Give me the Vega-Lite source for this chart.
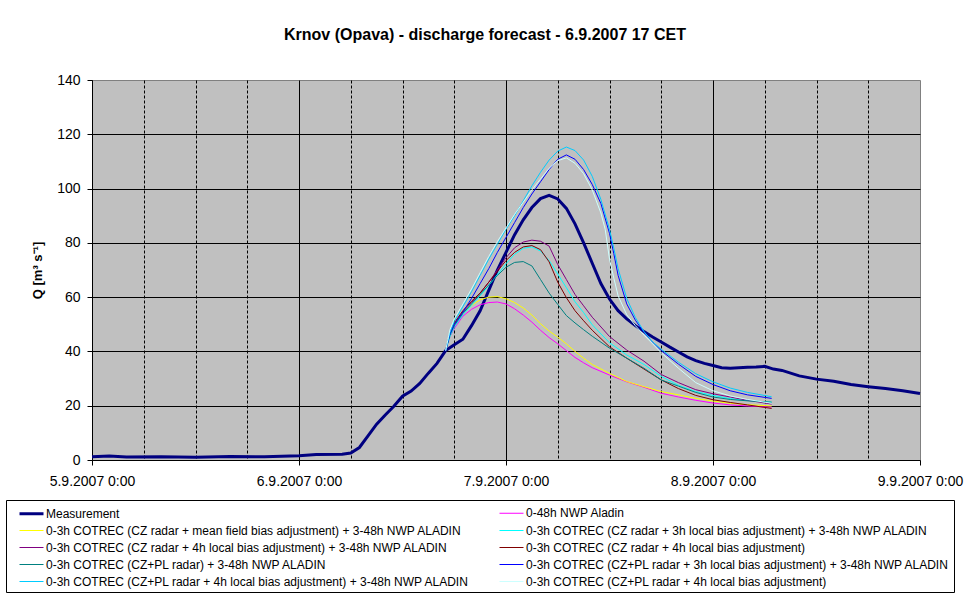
{
  "$schema": "https://vega.github.io/schema/vega-lite/v6.json",
  "width": 828,
  "height": 380,
  "autosize": "none",
  "padding": {"left": 92, "top": 80, "right": 50, "bottom": 144},
  "background": "white",
  "config": {
    "font": "Liberation Sans",
    "view": {"fill": "#C0C0C0", "stroke": "#808080", "strokeWidth": 1}
  },
  "title": {
    "text": "Krnov (Opava) - discharge forecast - 6.9.2007 17 CET",
    "font": "Liberation Sans",
    "fontSize": 16,
    "fontWeight": "bold",
    "color": "black",
    "anchor": "middle",
    "frame": "group",
    "dx": -21,
    "offset": 30
  },
  "data": {
    "format": {"parse": {"t": "utc:'%Y-%m-%d %H:%M'"}},
    "values": [
      {"k":0,"t":"2007-09-05 00:00","q":1.2},{"k":0,"t":"2007-09-05 02:00","q":1.5},{"k":0,"t":"2007-09-05 04:00","q":1.1},{"k":0,"t":"2007-09-05 08:00","q":1.2},{"k":0,"t":"2007-09-05 12:00","q":1.0},{"k":0,"t":"2007-09-05 16:00","q":1.3},{"k":0,"t":"2007-09-05 20:00","q":1.2},{"k":0,"t":"2007-09-06 00:00","q":1.6},{"k":0,"t":"2007-09-06 02:00","q":2.0},{"k":0,"t":"2007-09-06 05:00","q":2.1},{"k":0,"t":"2007-09-06 06:00","q":2.6},{"k":0,"t":"2007-09-06 07:00","q":4.6},{"k":0,"t":"2007-09-06 08:00","q":8.9},{"k":0,"t":"2007-09-06 09:00","q":13.2},{"k":0,"t":"2007-09-06 10:00","q":16.6},{"k":0,"t":"2007-09-06 11:00","q":19.8},{"k":0,"t":"2007-09-06 12:00","q":23.5},{"k":0,"t":"2007-09-06 13:00","q":25.4},{"k":0,"t":"2007-09-06 14:00","q":28.2},{"k":0,"t":"2007-09-06 15:00","q":32.0},{"k":0,"t":"2007-09-06 16:00","q":35.6},{"k":0,"t":"2007-09-06 17:00","q":40.3},{"k":0,"t":"2007-09-06 18:00","q":42.5},{"k":0,"t":"2007-09-06 19:00","q":44.5},{"k":0,"t":"2007-09-06 20:00","q":49.5},{"k":0,"t":"2007-09-06 21:00","q":55},{"k":0,"t":"2007-09-06 22:00","q":62.5},{"k":0,"t":"2007-09-06 23:00","q":70},{"k":0,"t":"2007-09-07 00:00","q":76.5},{"k":0,"t":"2007-09-07 01:00","q":83},{"k":0,"t":"2007-09-07 02:00","q":88.5},{"k":0,"t":"2007-09-07 03:00","q":93},{"k":0,"t":"2007-09-07 04:00","q":96.3},{"k":0,"t":"2007-09-07 05:00","q":97.5},{"k":0,"t":"2007-09-07 06:00","q":96.2},{"k":0,"t":"2007-09-07 07:00","q":92.7},{"k":0,"t":"2007-09-07 08:00","q":87},{"k":0,"t":"2007-09-07 09:00","q":80},{"k":0,"t":"2007-09-07 10:00","q":72.5},{"k":0,"t":"2007-09-07 11:00","q":65},{"k":0,"t":"2007-09-07 12:00","q":59.3},{"k":0,"t":"2007-09-07 13:00","q":55},{"k":0,"t":"2007-09-07 14:00","q":52},{"k":0,"t":"2007-09-07 15:00","q":49.5},{"k":0,"t":"2007-09-07 16:00","q":47.3},{"k":0,"t":"2007-09-07 17:00","q":45.3},{"k":0,"t":"2007-09-07 18:00","q":43.5},{"k":0,"t":"2007-09-07 19:00","q":41.6},{"k":0,"t":"2007-09-07 20:00","q":39.8},{"k":0,"t":"2007-09-07 21:00","q":38.0},{"k":0,"t":"2007-09-07 22:00","q":36.6},{"k":0,"t":"2007-09-07 23:00","q":35.6},{"k":0,"t":"2007-09-08 00:00","q":34.8},{"k":0,"t":"2007-09-08 01:00","q":34.0},{"k":0,"t":"2007-09-08 02:00","q":33.8},{"k":0,"t":"2007-09-08 03:00","q":34.0},{"k":0,"t":"2007-09-08 04:00","q":34.2},{"k":0,"t":"2007-09-08 05:00","q":34.3},{"k":0,"t":"2007-09-08 06:00","q":34.5},{"k":0,"t":"2007-09-08 07:00","q":33.5},{"k":0,"t":"2007-09-08 08:00","q":33.0},{"k":0,"t":"2007-09-08 10:00","q":31.0},{"k":0,"t":"2007-09-08 12:00","q":29.8},{"k":0,"t":"2007-09-08 14:00","q":29.0},{"k":0,"t":"2007-09-08 16:00","q":27.8},{"k":0,"t":"2007-09-08 18:00","q":27.0},{"k":0,"t":"2007-09-08 20:00","q":26.3},{"k":0,"t":"2007-09-08 22:00","q":25.5},{"k":0,"t":"2007-09-09 00:00","q":24.5},

      {"k":1,"t":"2007-09-06 17:00","q":40.3},{"k":1,"t":"2007-09-06 17:30","q":45.5},{"k":1,"t":"2007-09-06 18:00","q":48.5},{"k":1,"t":"2007-09-06 19:00","q":53},{"k":1,"t":"2007-09-06 20:00","q":55.5},{"k":1,"t":"2007-09-06 21:00","q":57.2},{"k":1,"t":"2007-09-06 22:00","q":58},{"k":1,"t":"2007-09-06 23:00","q":58.2},{"k":1,"t":"2007-09-07 00:00","q":57.5},{"k":1,"t":"2007-09-07 01:00","q":55.7},{"k":1,"t":"2007-09-07 02:00","q":53.4},{"k":1,"t":"2007-09-07 03:00","q":50.8},{"k":1,"t":"2007-09-07 04:00","q":47.8},{"k":1,"t":"2007-09-07 05:00","q":45.1},{"k":1,"t":"2007-09-07 06:00","q":42.8},{"k":1,"t":"2007-09-07 07:00","q":40.3},{"k":1,"t":"2007-09-07 08:00","q":37.8},{"k":1,"t":"2007-09-07 09:00","q":35.8},{"k":1,"t":"2007-09-07 10:00","q":34},{"k":1,"t":"2007-09-07 12:00","q":31.3},{"k":1,"t":"2007-09-07 14:00","q":28.8},{"k":1,"t":"2007-09-07 16:00","q":26.8},{"k":1,"t":"2007-09-07 18:00","q":24.6},{"k":1,"t":"2007-09-07 20:00","q":23.2},{"k":1,"t":"2007-09-07 22:00","q":22},{"k":1,"t":"2007-09-08 00:00","q":21},{"k":1,"t":"2007-09-08 02:00","q":20.3},{"k":1,"t":"2007-09-08 04:00","q":19.9},{"k":1,"t":"2007-09-08 06:48","q":19.5},

      {"k":2,"t":"2007-09-06 17:00","q":40.3},{"k":2,"t":"2007-09-06 17:30","q":46},{"k":2,"t":"2007-09-06 18:00","q":50.5},{"k":2,"t":"2007-09-06 19:00","q":54.5},{"k":2,"t":"2007-09-06 20:00","q":57},{"k":2,"t":"2007-09-06 21:00","q":59},{"k":2,"t":"2007-09-06 22:00","q":60},{"k":2,"t":"2007-09-06 23:00","q":60.2},{"k":2,"t":"2007-09-07 00:00","q":59.4},{"k":2,"t":"2007-09-07 01:00","q":58},{"k":2,"t":"2007-09-07 02:00","q":56},{"k":2,"t":"2007-09-07 03:00","q":53.4},{"k":2,"t":"2007-09-07 04:00","q":50.2},{"k":2,"t":"2007-09-07 05:00","q":47.5},{"k":2,"t":"2007-09-07 06:00","q":45.3},{"k":2,"t":"2007-09-07 07:00","q":42.8},{"k":2,"t":"2007-09-07 08:00","q":40},{"k":2,"t":"2007-09-07 09:00","q":37.5},{"k":2,"t":"2007-09-07 10:00","q":35.2},{"k":2,"t":"2007-09-07 12:00","q":31.9},{"k":2,"t":"2007-09-07 14:00","q":28.9},{"k":2,"t":"2007-09-07 16:00","q":27},{"k":2,"t":"2007-09-07 18:00","q":25.2},{"k":2,"t":"2007-09-07 20:00","q":24},{"k":2,"t":"2007-09-07 22:00","q":22.7},{"k":2,"t":"2007-09-08 00:00","q":21.7},{"k":2,"t":"2007-09-08 02:00","q":20.9},{"k":2,"t":"2007-09-08 04:00","q":20.4},{"k":2,"t":"2007-09-08 06:48","q":19.9},

      {"k":3,"t":"2007-09-06 17:00","q":40.3},{"k":3,"t":"2007-09-06 17:30","q":45.5},{"k":3,"t":"2007-09-06 18:00","q":49},{"k":3,"t":"2007-09-06 19:00","q":53.5},{"k":3,"t":"2007-09-06 20:00","q":57},{"k":3,"t":"2007-09-06 21:00","q":60.5},{"k":3,"t":"2007-09-06 22:00","q":64.3},{"k":3,"t":"2007-09-06 23:00","q":68.3},{"k":3,"t":"2007-09-07 00:00","q":72.3},{"k":3,"t":"2007-09-07 01:00","q":75.8},{"k":3,"t":"2007-09-07 02:00","q":78},{"k":3,"t":"2007-09-07 03:00","q":78.5},{"k":3,"t":"2007-09-07 04:00","q":77},{"k":3,"t":"2007-09-07 05:00","q":73.5},{"k":3,"t":"2007-09-07 06:00","q":68.5},{"k":3,"t":"2007-09-07 07:00","q":63.5},{"k":3,"t":"2007-09-07 08:00","q":58.3},{"k":3,"t":"2007-09-07 09:00","q":54.3},{"k":3,"t":"2007-09-07 10:00","q":49.8},{"k":3,"t":"2007-09-07 12:00","q":43.2},{"k":3,"t":"2007-09-07 14:00","q":38.7},{"k":3,"t":"2007-09-07 16:00","q":35.2},{"k":3,"t":"2007-09-07 18:00","q":30.8},{"k":3,"t":"2007-09-07 20:00","q":27.5},{"k":3,"t":"2007-09-07 22:00","q":25.2},{"k":3,"t":"2007-09-08 00:00","q":23.8},{"k":3,"t":"2007-09-08 02:00","q":22.6},{"k":3,"t":"2007-09-08 04:00","q":21.9},{"k":3,"t":"2007-09-08 06:48","q":21.3},

      {"k":4,"t":"2007-09-06 17:00","q":40.3},{"k":4,"t":"2007-09-06 17:30","q":46.5},{"k":4,"t":"2007-09-06 18:00","q":50},{"k":4,"t":"2007-09-06 19:00","q":54.5},{"k":4,"t":"2007-09-06 20:00","q":58},{"k":4,"t":"2007-09-06 21:00","q":61.5},{"k":4,"t":"2007-09-06 22:00","q":65.5},{"k":4,"t":"2007-09-06 23:00","q":70},{"k":4,"t":"2007-09-07 00:00","q":74.5},{"k":4,"t":"2007-09-07 01:00","q":78.2},{"k":4,"t":"2007-09-07 02:00","q":80.3},{"k":4,"t":"2007-09-07 03:00","q":81},{"k":4,"t":"2007-09-07 04:00","q":80.6},{"k":4,"t":"2007-09-07 05:00","q":78.8},{"k":4,"t":"2007-09-07 06:00","q":72},{"k":4,"t":"2007-09-07 07:00","q":66.5},{"k":4,"t":"2007-09-07 08:00","q":61},{"k":4,"t":"2007-09-07 09:00","q":56.8},{"k":4,"t":"2007-09-07 10:00","q":52.6},{"k":4,"t":"2007-09-07 12:00","q":45.5},{"k":4,"t":"2007-09-07 14:00","q":40.5},{"k":4,"t":"2007-09-07 16:00","q":36.4},{"k":4,"t":"2007-09-07 18:00","q":31.5},{"k":4,"t":"2007-09-07 20:00","q":28.5},{"k":4,"t":"2007-09-07 22:00","q":25.9},{"k":4,"t":"2007-09-08 00:00","q":24.4},{"k":4,"t":"2007-09-08 02:00","q":23.2},{"k":4,"t":"2007-09-08 04:00","q":22},{"k":4,"t":"2007-09-08 06:48","q":20.6},

      {"k":5,"t":"2007-09-06 17:00","q":40.3},{"k":5,"t":"2007-09-06 17:30","q":47},{"k":5,"t":"2007-09-06 18:00","q":50.5},{"k":5,"t":"2007-09-06 19:00","q":55},{"k":5,"t":"2007-09-06 20:00","q":58.5},{"k":5,"t":"2007-09-06 21:00","q":61.5},{"k":5,"t":"2007-09-06 22:00","q":65.5},{"k":5,"t":"2007-09-06 23:00","q":69.5},{"k":5,"t":"2007-09-07 00:00","q":73.5},{"k":5,"t":"2007-09-07 01:00","q":76.5},{"k":5,"t":"2007-09-07 02:00","q":78.5},{"k":5,"t":"2007-09-07 03:00","q":79},{"k":5,"t":"2007-09-07 04:00","q":77.5},{"k":5,"t":"2007-09-07 05:00","q":73},{"k":5,"t":"2007-09-07 06:00","q":65.5},{"k":5,"t":"2007-09-07 07:00","q":59.8},{"k":5,"t":"2007-09-07 08:00","q":55},{"k":5,"t":"2007-09-07 09:00","q":51.3},{"k":5,"t":"2007-09-07 10:00","q":47.8},{"k":5,"t":"2007-09-07 12:00","q":41.7},{"k":5,"t":"2007-09-07 14:00","q":37.5},{"k":5,"t":"2007-09-07 16:00","q":33.5},{"k":5,"t":"2007-09-07 18:00","q":29.5},{"k":5,"t":"2007-09-07 20:00","q":26.3},{"k":5,"t":"2007-09-07 22:00","q":23.8},{"k":5,"t":"2007-09-08 00:00","q":22.2},{"k":5,"t":"2007-09-08 02:00","q":21.2},{"k":5,"t":"2007-09-08 04:00","q":20.3},{"k":5,"t":"2007-09-08 06:48","q":19},

      {"k":6,"t":"2007-09-06 17:00","q":40.3},{"k":6,"t":"2007-09-06 17:30","q":46},{"k":6,"t":"2007-09-06 18:00","q":49.5},{"k":6,"t":"2007-09-06 19:00","q":54},{"k":6,"t":"2007-09-06 20:00","q":57.5},{"k":6,"t":"2007-09-06 21:00","q":61},{"k":6,"t":"2007-09-06 22:00","q":64.5},{"k":6,"t":"2007-09-06 23:00","q":68},{"k":6,"t":"2007-09-07 00:00","q":71},{"k":6,"t":"2007-09-07 01:00","q":72.8},{"k":6,"t":"2007-09-07 02:00","q":73.1},{"k":6,"t":"2007-09-07 03:00","q":71.5},{"k":6,"t":"2007-09-07 04:00","q":66.5},{"k":6,"t":"2007-09-07 05:00","q":61.5},{"k":6,"t":"2007-09-07 06:00","q":57.3},{"k":6,"t":"2007-09-07 07:00","q":53.2},{"k":6,"t":"2007-09-07 08:00","q":50.5},{"k":6,"t":"2007-09-07 09:00","q":48},{"k":6,"t":"2007-09-07 10:00","q":45.6},{"k":6,"t":"2007-09-07 12:00","q":41.2},{"k":6,"t":"2007-09-07 14:00","q":37.5},{"k":6,"t":"2007-09-07 16:00","q":33.8},{"k":6,"t":"2007-09-07 18:00","q":29.5},{"k":6,"t":"2007-09-07 20:00","q":27.2},{"k":6,"t":"2007-09-07 22:00","q":24.9},{"k":6,"t":"2007-09-08 00:00","q":23.2},{"k":6,"t":"2007-09-08 02:00","q":22.3},{"k":6,"t":"2007-09-08 04:00","q":21.8},{"k":6,"t":"2007-09-08 06:48","q":21.3},

      {"k":7,"t":"2007-09-06 17:00","q":40.3},{"k":7,"t":"2007-09-06 17:30","q":46.5},{"k":7,"t":"2007-09-06 18:00","q":50},{"k":7,"t":"2007-09-06 19:00","q":54.5},{"k":7,"t":"2007-09-06 20:00","q":59.5},{"k":7,"t":"2007-09-06 21:00","q":65},{"k":7,"t":"2007-09-06 22:00","q":70.5},{"k":7,"t":"2007-09-06 23:00","q":76.5},{"k":7,"t":"2007-09-07 00:00","q":82},{"k":7,"t":"2007-09-07 01:00","q":87.5},{"k":7,"t":"2007-09-07 02:00","q":93},{"k":7,"t":"2007-09-07 03:00","q":98},{"k":7,"t":"2007-09-07 04:00","q":102.5},{"k":7,"t":"2007-09-07 05:00","q":107},{"k":7,"t":"2007-09-07 06:00","q":110.8},{"k":7,"t":"2007-09-07 07:00","q":112.4},{"k":7,"t":"2007-09-07 08:00","q":110.8},{"k":7,"t":"2007-09-07 09:00","q":107},{"k":7,"t":"2007-09-07 10:00","q":101.5},{"k":7,"t":"2007-09-07 11:00","q":94.5},{"k":7,"t":"2007-09-07 12:00","q":83.5},{"k":7,"t":"2007-09-07 12:30","q":76},{"k":7,"t":"2007-09-07 13:00","q":68},{"k":7,"t":"2007-09-07 14:00","q":57.5},{"k":7,"t":"2007-09-07 15:00","q":51.5},{"k":7,"t":"2007-09-07 16:00","q":47},{"k":7,"t":"2007-09-07 17:00","q":43.5},{"k":7,"t":"2007-09-07 18:00","q":40.3},{"k":7,"t":"2007-09-07 20:00","q":35.3},{"k":7,"t":"2007-09-07 22:00","q":30.8},{"k":7,"t":"2007-09-08 00:00","q":27.8},{"k":7,"t":"2007-09-08 02:00","q":25.5},{"k":7,"t":"2007-09-08 04:00","q":24},{"k":7,"t":"2007-09-08 06:48","q":22.7},

      {"k":8,"t":"2007-09-06 17:00","q":40.3},{"k":8,"t":"2007-09-06 17:30","q":47},{"k":8,"t":"2007-09-06 18:00","q":51},{"k":8,"t":"2007-09-06 19:00","q":56.5},{"k":8,"t":"2007-09-06 20:00","q":62},{"k":8,"t":"2007-09-06 21:00","q":68},{"k":8,"t":"2007-09-06 22:00","q":74},{"k":8,"t":"2007-09-06 23:00","q":79.5},{"k":8,"t":"2007-09-07 00:00","q":85},{"k":8,"t":"2007-09-07 01:00","q":90},{"k":8,"t":"2007-09-07 02:00","q":95.5},{"k":8,"t":"2007-09-07 03:00","q":101},{"k":8,"t":"2007-09-07 04:00","q":106},{"k":8,"t":"2007-09-07 05:00","q":110.5},{"k":8,"t":"2007-09-07 06:00","q":113.8},{"k":8,"t":"2007-09-07 07:00","q":115.3},{"k":8,"t":"2007-09-07 08:00","q":114},{"k":8,"t":"2007-09-07 09:00","q":110.5},{"k":8,"t":"2007-09-07 10:00","q":104.5},{"k":8,"t":"2007-09-07 11:00","q":96},{"k":8,"t":"2007-09-07 12:00","q":85},{"k":8,"t":"2007-09-07 12:30","q":78},{"k":8,"t":"2007-09-07 13:00","q":70.5},{"k":8,"t":"2007-09-07 14:00","q":59.5},{"k":8,"t":"2007-09-07 15:00","q":52.5},{"k":8,"t":"2007-09-07 16:00","q":47.3},{"k":8,"t":"2007-09-07 17:00","q":43.5},{"k":8,"t":"2007-09-07 18:00","q":40.8},{"k":8,"t":"2007-09-07 20:00","q":36},{"k":8,"t":"2007-09-07 22:00","q":31.8},{"k":8,"t":"2007-09-08 00:00","q":28.8},{"k":8,"t":"2007-09-08 02:00","q":26.5},{"k":8,"t":"2007-09-08 04:00","q":24.9},{"k":8,"t":"2007-09-08 06:48","q":23.3},

      {"k":9,"t":"2007-09-06 17:00","q":40.3},{"k":9,"t":"2007-09-06 17:30","q":48},{"k":9,"t":"2007-09-06 18:00","q":52},{"k":9,"t":"2007-09-06 19:00","q":57.5},{"k":9,"t":"2007-09-06 20:00","q":63},{"k":9,"t":"2007-09-06 21:00","q":69},{"k":9,"t":"2007-09-06 22:00","q":75},{"k":9,"t":"2007-09-06 23:00","q":80.5},{"k":9,"t":"2007-09-07 00:00","q":85.5},{"k":9,"t":"2007-09-07 01:00","q":90.5},{"k":9,"t":"2007-09-07 02:00","q":95},{"k":9,"t":"2007-09-07 03:00","q":99.5},{"k":9,"t":"2007-09-07 04:00","q":103.5},{"k":9,"t":"2007-09-07 05:00","q":107.5},{"k":9,"t":"2007-09-07 06:00","q":110.3},{"k":9,"t":"2007-09-07 07:00","q":111.3},{"k":9,"t":"2007-09-07 08:00","q":109.3},{"k":9,"t":"2007-09-07 09:00","q":105.5},{"k":9,"t":"2007-09-07 10:00","q":99.5},{"k":9,"t":"2007-09-07 11:00","q":91},{"k":9,"t":"2007-09-07 11:30","q":85},{"k":9,"t":"2007-09-07 12:00","q":74},{"k":9,"t":"2007-09-07 12:30","q":67},{"k":9,"t":"2007-09-07 13:00","q":60.5},{"k":9,"t":"2007-09-07 14:00","q":53.5},{"k":9,"t":"2007-09-07 15:00","q":49.5},{"k":9,"t":"2007-09-07 16:00","q":46},{"k":9,"t":"2007-09-07 17:00","q":42.8},{"k":9,"t":"2007-09-07 18:00","q":39.5},{"k":9,"t":"2007-09-07 20:00","q":33.8},{"k":9,"t":"2007-09-07 22:00","q":28.5},{"k":9,"t":"2007-09-08 00:00","q":25.5},{"k":9,"t":"2007-09-08 02:00","q":23.6},{"k":9,"t":"2007-09-08 04:00","q":22.3},{"k":9,"t":"2007-09-08 06:48","q":20.9}
    ]
  },
  "transform": [
    {
      "lookup": "k",
      "from": {
        "data": {"values": [
          {"k":0,"s":"Measurement"},
          {"k":1,"s":"0-48h NWP Aladin"},
          {"k":2,"s":"0-3h COTREC (CZ radar + mean field bias adjustment) + 3-48h NWP ALADIN"},
          {"k":3,"s":"0-3h COTREC (CZ radar + 3h local bias adjustment) + 3-48h NWP ALADIN"},
          {"k":4,"s":"0-3h COTREC (CZ radar + 4h local bias adjustment) + 3-48h NWP ALADIN"},
          {"k":5,"s":"0-3h COTREC (CZ radar + 4h local bias adjustment)"},
          {"k":6,"s":"0-3h COTREC (CZ+PL radar) + 3-48h NWP ALADIN"},
          {"k":7,"s":"0-3h COTREC (CZ+PL radar + 3h local bias adjustment) + 3-48h NWP ALADIN"},
          {"k":8,"s":"0-3h COTREC (CZ+PL radar + 4h local bias adjustment) + 3-48h NWP ALADIN"},
          {"k":9,"s":"0-3h COTREC (CZ+PL radar + 4h local bias adjustment)"}
        ]},
        "key": "k",
        "fields": ["s"]
      }
    }
  ],
  "mark": {"type": "line", "interpolate": "linear"},
  "encoding": {
    "x": {
      "field": "t",
      "type": "temporal",
      "scale": {
        "type": "utc",
        "nice": false,
        "domain": [
          {"year": 2007, "month": 9, "date": 5, "hours": 0, "utc": true},
          {"year": 2007, "month": 9, "date": 9, "hours": 0, "utc": true}
        ]
      },
      "axis": {
        "title": null,
        "values": [
          {"year": 2007, "month": 9, "date": 5, "hours": 0, "utc": true},
          {"year": 2007, "month": 9, "date": 5, "hours": 6, "utc": true},
          {"year": 2007, "month": 9, "date": 5, "hours": 12, "utc": true},
          {"year": 2007, "month": 9, "date": 5, "hours": 18, "utc": true},
          {"year": 2007, "month": 9, "date": 6, "hours": 0, "utc": true},
          {"year": 2007, "month": 9, "date": 6, "hours": 6, "utc": true},
          {"year": 2007, "month": 9, "date": 6, "hours": 12, "utc": true},
          {"year": 2007, "month": 9, "date": 6, "hours": 18, "utc": true},
          {"year": 2007, "month": 9, "date": 7, "hours": 0, "utc": true},
          {"year": 2007, "month": 9, "date": 7, "hours": 6, "utc": true},
          {"year": 2007, "month": 9, "date": 7, "hours": 12, "utc": true},
          {"year": 2007, "month": 9, "date": 7, "hours": 18, "utc": true},
          {"year": 2007, "month": 9, "date": 8, "hours": 0, "utc": true},
          {"year": 2007, "month": 9, "date": 8, "hours": 6, "utc": true},
          {"year": 2007, "month": 9, "date": 8, "hours": 12, "utc": true},
          {"year": 2007, "month": 9, "date": 8, "hours": 18, "utc": true},
          {"year": 2007, "month": 9, "date": 9, "hours": 0, "utc": true}
        ],
        "labelExpr": "utchours(datum.value) === 0 ? utcFormat(datum.value, '%-d.%-m.%Y %-H:%M') : ''",
        "labelOverlap": false,
        "labelFlush": false,
        "labelFont": "Liberation Sans",
        "labelFontSize": 14,
        "labelColor": "black",
        "labelPadding": 9,
        "tickSize": 5,
        "tickColor": "black",
        "tickOpacity": {"condition": {"test": "utchours(datum.value) === 0", "value": 1}, "value": 0},
        "domainColor": "black",
        "grid": true,
        "gridColor": "black",
        "gridWidth": 1,
        "gridDash": {"condition": {"test": "utchours(datum.value) === 0", "value": []}, "value": [3, 2]},
        "gridOpacity": {"condition": {"test": "datum.value >= utc(2007, 8, 9)", "value": 0}, "value": 1}
      }
    },
    "y": {
      "field": "q",
      "type": "quantitative",
      "scale": {"domain": [0, 140], "nice": false},
      "axis": {
        "values": [0, 20, 40, 60, 80, 100, 120, 140],
        "title": "Q [m³ s⁻¹]",
        "titleFont": "Liberation Sans",
        "titleFontSize": 13,
        "titleFontWeight": "bold",
        "titleColor": "black",
        "titlePadding": 12,
        "labelFont": "Liberation Sans",
        "labelFontSize": 14,
        "labelColor": "black",
        "labelPadding": 7,
        "tickSize": 5,
        "tickColor": "black",
        "domainColor": "black",
        "grid": true,
        "gridColor": "black",
        "gridWidth": 1,
        "gridOpacity": {"condition": {"test": "datum.value >= 140 || datum.value <= 0", "value": 0}, "value": 1}
      }
    },
    "color": {
      "field": "s",
      "type": "nominal",
      "scale": {
        "domain": [
          "Measurement",
          "0-48h NWP Aladin",
          "0-3h COTREC (CZ radar + mean field bias adjustment) + 3-48h NWP ALADIN",
          "0-3h COTREC (CZ radar + 3h local bias adjustment) + 3-48h NWP ALADIN",
          "0-3h COTREC (CZ radar + 4h local bias adjustment) + 3-48h NWP ALADIN",
          "0-3h COTREC (CZ radar + 4h local bias adjustment)",
          "0-3h COTREC (CZ+PL radar) + 3-48h NWP ALADIN",
          "0-3h COTREC (CZ+PL radar + 3h local bias adjustment) + 3-48h NWP ALADIN",
          "0-3h COTREC (CZ+PL radar + 4h local bias adjustment) + 3-48h NWP ALADIN",
          "0-3h COTREC (CZ+PL radar + 4h local bias adjustment)"
        ],
        "range": ["#000080", "#FF00FF", "#FFFF00", "#00FFFF", "#800080", "#800000", "#008080", "#0000FF", "#00CCFF", "#CCFFFF"]
      },
      "legend": {
        "title": null,
        "orient": "none",
        "legendX": -86,
        "legendY": 420,
        "direction": "horizontal",
        "columns": 2,
        "symbolType": "M-1.5,0H1.5",
        "symbolSize": 256,
        "symbolOffset": 12,
        "labelFont": "Liberation Sans",
        "labelFontSize": 12,
        "labelColor": "black",
        "labelLimit": 700,
        "labelOffset": 5,
        "columnPadding": 20,
        "rowPadding": 2,
        "padding": 4,
        "strokeColor": "black",
        "fillColor": "white",
        "cornerRadius": 0
      }
    },
    "strokeWidth": {
      "field": "s",
      "type": "nominal",
      "scale": {
        "type": "ordinal",
        "domain": [
          "Measurement",
          "0-48h NWP Aladin",
          "0-3h COTREC (CZ radar + mean field bias adjustment) + 3-48h NWP ALADIN",
          "0-3h COTREC (CZ radar + 3h local bias adjustment) + 3-48h NWP ALADIN",
          "0-3h COTREC (CZ radar + 4h local bias adjustment) + 3-48h NWP ALADIN",
          "0-3h COTREC (CZ radar + 4h local bias adjustment)",
          "0-3h COTREC (CZ+PL radar) + 3-48h NWP ALADIN",
          "0-3h COTREC (CZ+PL radar + 3h local bias adjustment) + 3-48h NWP ALADIN",
          "0-3h COTREC (CZ+PL radar + 4h local bias adjustment) + 3-48h NWP ALADIN",
          "0-3h COTREC (CZ+PL radar + 4h local bias adjustment)"
        ],
        "range": [3, 1, 1, 1, 1, 1, 1, 1, 1, 1]
      }
    }
  }
}
